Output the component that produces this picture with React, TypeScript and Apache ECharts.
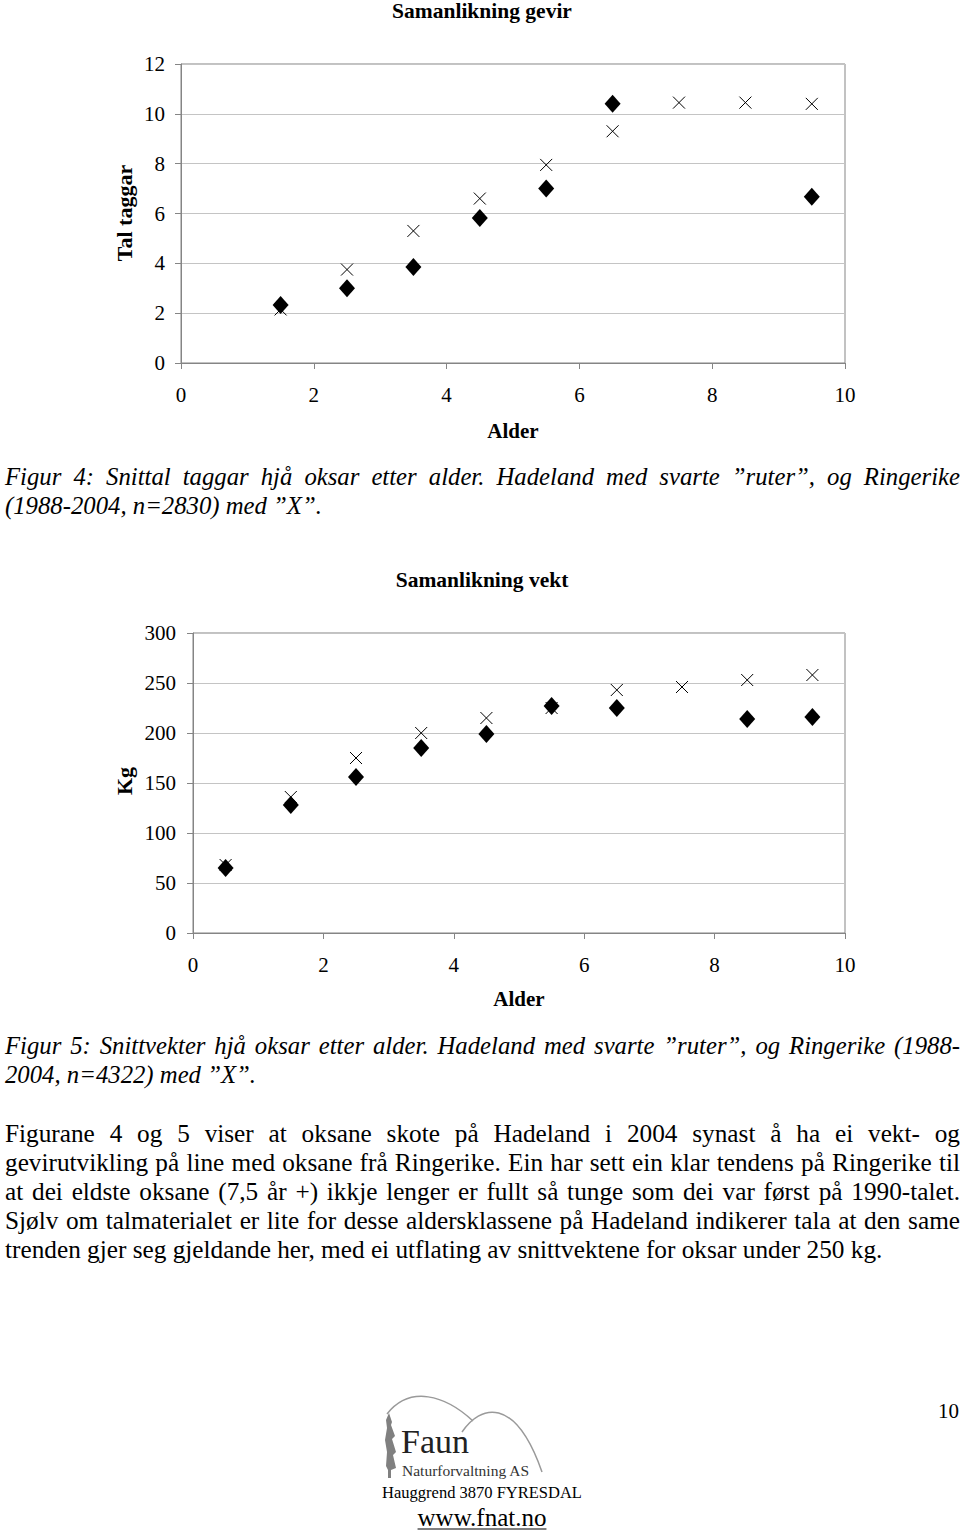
import React, { useEffect, useRef } from "react";
import * as echarts from "echarts";

// ---------- Data ----------
const gevirHadelandAge = [1.5, 2.5, 3.5, 4.5, 5.5, 6.5, 9.5];
const gevirHadeland = [2.33, 3.0, 3.85, 5.82, 7.0, 10.4, 6.67];
const gevirRingerikeAge = [1.5, 2.5, 3.5, 4.5, 5.5, 6.5, 7.5, 8.5, 9.5];
const gevirRingerike = [2.15, 3.75, 5.3, 6.6, 7.95, 9.3, 10.45, 10.45, 10.4];

const vektHadelandAge = [0.5, 1.5, 2.5, 3.5, 4.5, 5.5, 6.5, 8.5, 9.5];
const vektHadeland = [65, 128, 156, 185, 199, 227, 225, 214, 216];
const vektRingerikeAge = [0.5, 1.5, 2.5, 3.5, 4.5, 5.5, 6.5, 7.5, 8.5, 9.5];
const vektRingerike = [68, 136, 175, 200, 215, 225, 243, 246, 253, 258];

const gevirTicks = { min: 0, max: 12, interval: 2 };
const vektTicks = { min: 0, max: 300, interval: 50 };
const ageTicks = { min: 0, max: 10, interval: 2 };

const titleGevir = "Samanlikning gevir";
const titleVekt = "Samanlikning vekt";
const yNameGevir = "Tal taggar";
const yNameVekt = "Kg";
const xName = "Alder";

const captionFig4 = [
  "Figur 4: Snittal taggar hjå oksar etter alder. Hadeland med svarte ”ruter”, og Ringerike",
  "(1988-2004, n=2830) med ”X”.",
];
const captionFig5 = [
  "Figur 5: Snittvekter hjå oksar etter alder. Hadeland med svarte ”ruter”, og Ringerike (1988-",
  "2004, n=4322) med ”X”.",
];
const paragraphLines = [
  "Figurane 4 og 5 viser at oksane skote på Hadeland i 2004 synast å ha ei vekt- og",
  "gevirutvikling på line med oksane frå Ringerike. Ein har sett ein klar tendens på Ringerike til",
  "at dei eldste oksane (7,5 år +) ikkje lenger er fullt så tunge som dei var først på 1990-talet.",
  "Sjølv om talmaterialet er lite for desse aldersklassene på Hadeland indikerer tala at den same",
  "trenden gjer seg gjeldande her, med ei utflating av snittvektene for oksar under 250 kg.",
];
const pageNumber = "10";
const logoName = "Faun";
const logoSub = "Naturforvaltning AS";
const logoAddress = "Hauggrend 3870 FYRESDAL";
const logoUrl = "www.fnat.no";

// ---------- helpers ----------
const FONT = "Liberation Serif";
const zip = (xs: number[], ys: number[]) => xs.map((x, i) => [x, ys[i]]);

const ctx = typeof document !== "undefined" ? document.createElement("canvas").getContext("2d") : null;
function measure(text: string, size: number, style = "normal", weight = "normal") {
  if (!ctx) return text.length * size * 0.45;
  ctx.font = `${style} ${weight} ${size}px "Liberation Serif"`;
  return ctx.measureText(text).width;
}

function textEl(text: string, x: number, y: number, size: number, opts: any = {}) {
  return {
    type: "text",
    x,
    y,
    rotation: opts.rotation || 0,
    style: {
      text,
      fontSize: size,
      fontFamily: FONT,
      fontStyle: opts.fontStyle || "normal",
      fontWeight: opts.fontWeight || "normal",
      fill: opts.fill || "#000",
      align: opts.align || "left",
      verticalAlign: "middle",
    },
  };
}

function lineEls(line: string, x0: number, x1: number, y: number, size: number, justify: boolean, fontStyle = "normal") {
  if (!justify) return [textEl(line, x0, y, size, { fontStyle })];
  const words = line.split(" ");
  const widths = words.map((w) => measure(w, size, fontStyle));
  const total = widths.reduce((a, b) => a + b, 0);
  const gap = (x1 - x0 - total) / (words.length - 1);
  const els: any[] = [];
  let x = x0;
  words.forEach((w, i) => {
    els.push(textEl(w, x, y, size, { fontStyle }));
    x += widths[i] + gap;
  });
  return els;
}

const labelStyle = { color: "#000", fontSize: 21, fontFamily: FONT };
function axisCommon() {
  return {
    axisLine: { show: true, lineStyle: { color: "#858585", width: 1 } },
    axisTick: { show: true, length: 6, inside: false, lineStyle: { color: "#858585", width: 1 } },
  };
}

export default function App() {
  const ref = useRef<HTMLDivElement>(null);
  useEffect(() => {
    if (!ref.current) return;
    const chart = echarts.init(ref.current, undefined, { renderer: "svg" });

    const paraSize = (20 * 878) / measure(paragraphLines[4], 20);
    const capSize = (20 * 317) / measure(captionFig4[1], 20, "italic");

    const graphics: any[] = [];
    // titles
    graphics.push(textEl(titleGevir, 482, 11, 21.5, { fontWeight: "bold", align: "center" }));
    graphics.push(textEl(titleVekt, 482, 580, 21.5, { fontWeight: "bold", align: "center" }));
    // axis names
    graphics.push(textEl(yNameGevir, 124, 213, 22, { fontWeight: "bold", align: "center", rotation: Math.PI / 2 }));
    graphics.push(textEl(yNameVekt, 124, 781, 22, { fontWeight: "bold", align: "center", rotation: Math.PI / 2 }));
    graphics.push(textEl(xName, 513, 431, 21, { fontWeight: "bold", align: "center" }));
    graphics.push(textEl(xName, 519, 999, 21, { fontWeight: "bold", align: "center" }));
    // captions
    graphics.push(...lineEls(captionFig4[0], 5, 960, 476, capSize, true, "italic"));
    graphics.push(...lineEls(captionFig4[1], 5, 960, 505, capSize, false, "italic"));
    graphics.push(...lineEls(captionFig5[0], 5, 960, 1045, capSize, true, "italic"));
    graphics.push(...lineEls(captionFig5[1], 5, 960, 1074, capSize, false, "italic"));
    // paragraph
    const paraY = [1133, 1162, 1191, 1220, 1249];
    paragraphLines.forEach((l, i) => {
      graphics.push(...lineEls(l, 5, 960, paraY[i], paraSize, i < paragraphLines.length - 1));
    });
    // page number
    graphics.push(textEl(pageNumber, 959, 1411, 21, { align: "right" }));
    // logo
    graphics.push({
      type: "bezierCurve",
      shape: { x1: 387, y1: 1414, cpx1: 410, cpy1: 1385, cpx2: 445, cpy2: 1395, x2: 473, y2: 1421 },
      style: { stroke: "#9a9a9a", lineWidth: 1.5, fill: null },
    });
    graphics.push({
      type: "bezierCurve",
      shape: { x1: 462, y1: 1432, cpx1: 480, cpy1: 1405, cpx2: 515, cpy2: 1395, x2: 542, y2: 1472 },
      style: { stroke: "#9a9a9a", lineWidth: 1.5, fill: null },
    });
    graphics.push({
      type: "polygon",
      shape: {
        points: [
          [389, 1413], [392, 1422], [391, 1425], [395, 1436], [392, 1439], [396, 1452], [393, 1455],
          [396, 1468], [391, 1470], [391, 1478], [388, 1478], [388, 1470], [386, 1466], [387, 1452],
          [385, 1440], [387, 1428], [386, 1420],
        ],
      },
      style: { fill: "#808080" },
    });
    graphics.push(textEl(logoName, 401, 1441, 34, { fill: "#222" }));
    graphics.push(textEl(logoSub, 402, 1470, 15.5, { fill: "#333" }));
    graphics.push(textEl(logoAddress, 482, 1492, 16.5, { align: "center" }));
    graphics.push(textEl(logoUrl, 482, 1517, 25, { align: "center" }));
    const urlW = measure(logoUrl, 25);
    graphics.push({
      type: "line",
      shape: { x1: 482 - urlW / 2, y1: 1529, x2: 482 + urlW / 2, y2: 1529 },
      style: { stroke: "#000", lineWidth: 1 },
    });

    const crossSymbol = "path://M0 0L10 10M10 0L0 10";
    const crossStyle = { color: "rgba(0,0,0,0)", borderColor: "#000", borderWidth: 1, opacity: 1 };
    const diamondStyle = { color: "#000", opacity: 1 };

    chart.setOption({
      animation: false,
      backgroundColor: "#fff",
      grid: [
        { left: 181, top: 64, width: 664, height: 299, show: true, borderColor: "#858585", borderWidth: 1 },
        { left: 193, top: 633, width: 652, height: 300, show: true, borderColor: "#858585", borderWidth: 1 },
      ],
      xAxis: [
        {
          gridIndex: 0, type: "value", ...ageTicks, ...axisCommon(),
          axisLabel: { ...labelStyle, margin: 21 },
          splitLine: { show: false },
        },
        {
          gridIndex: 1, type: "value", ...ageTicks, ...axisCommon(),
          axisLabel: { ...labelStyle, margin: 21 },
          splitLine: { show: false },
        },
      ],
      yAxis: [
        {
          gridIndex: 0, type: "value", ...gevirTicks, ...axisCommon(),
          axisLabel: { ...labelStyle, margin: 16 },
          splitLine: { show: true, lineStyle: { color: "#c4c4c4", width: 1 } },
        },
        {
          gridIndex: 1, type: "value", ...vektTicks, ...axisCommon(),
          axisLabel: { ...labelStyle, margin: 17 },
          splitLine: { show: true, lineStyle: { color: "#c4c4c4", width: 1 } },
        },
      ],
      series: [
        {
          name: "Ringerike", type: "scatter", xAxisIndex: 0, yAxisIndex: 0,
          symbol: crossSymbol, symbolSize: [12, 12], itemStyle: crossStyle,
          data: zip(gevirRingerikeAge, gevirRingerike),
        },
        {
          name: "Hadeland", type: "scatter", xAxisIndex: 0, yAxisIndex: 0,
          symbol: "diamond", symbolSize: [16, 18], itemStyle: diamondStyle,
          data: zip(gevirHadelandAge, gevirHadeland),
        },
        {
          name: "Ringerike", type: "scatter", xAxisIndex: 1, yAxisIndex: 1,
          symbol: crossSymbol, symbolSize: [12, 12], itemStyle: crossStyle,
          data: zip(vektRingerikeAge, vektRingerike),
        },
        {
          name: "Hadeland", type: "scatter", xAxisIndex: 1, yAxisIndex: 1,
          symbol: "diamond", symbolSize: [16, 18], itemStyle: diamondStyle,
          data: zip(vektHadelandAge, vektHadeland),
        },
      ],
      graphic: graphics,
    });
    return () => chart.dispose();
  }, []);
  return (
    <div
      ref={ref}
      style={{ position: "absolute", left: 0, top: 0, width: 960, height: 1531, background: "#fff" }}
    />
  );
}
